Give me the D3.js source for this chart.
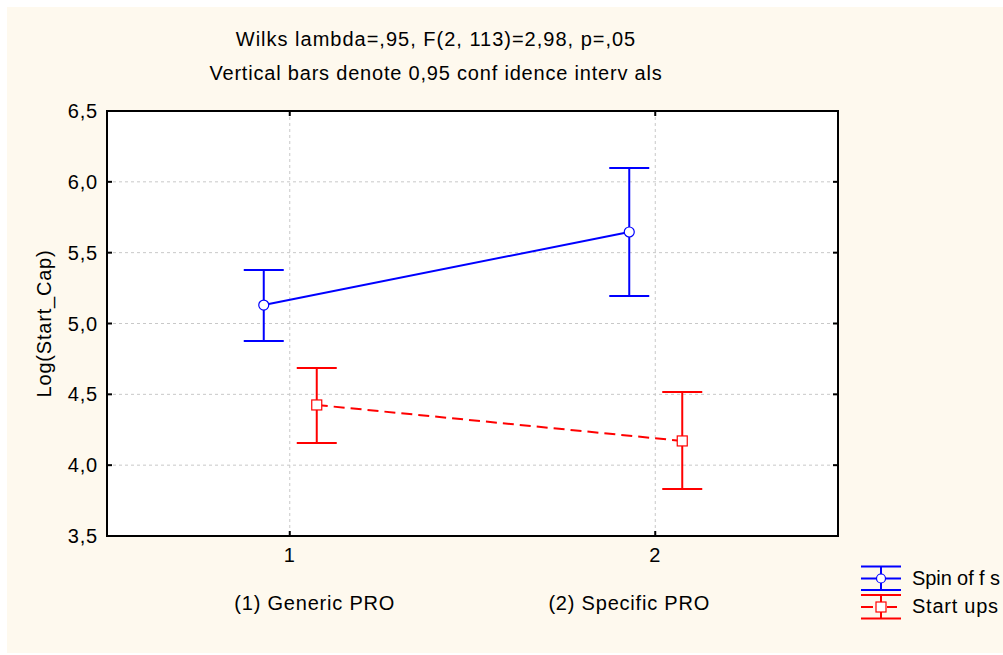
<!DOCTYPE html>
<html lang="en">
<head>
<meta charset="utf-8">
<script src="https://d3js.org/d3.v7.min.js"></script>
<style>
  body { margin: 0; background: #fff; }
  text { font-family: "Liberation Sans", Arial, sans-serif; fill: #000; font-size: 20px; letter-spacing: 0.8px; }
</style>
</head>
<body>
<script>

// chart data
var groups = ["1", "2"];
var groupLabels = ["(1) Generic PRO", "(2) Specific PRO"];
var yTicks = [3.5, 4.0, 4.5, 5.0, 5.5, 6.0, 6.5];
var seriesNames = ["Spin of f s", "Start ups"];
var spinMean = [5.13, 5.646];
var spinLow = [4.877, 5.194];
var spinHigh = [5.378, 6.098];
var startMean = [4.425, 4.171];
var startLow = [4.156, 3.832];
var startHigh = [4.686, 4.517];
var titleLines = ["Wilks lambda=,95, F(2, 113)=2,98, p=,05",
                  "Vertical bars denote 0,95 conf idence interv als"];
var yTitle = "Log(Start_Cap)";

var width = 1003, height = 655;
var margin = {left: 107, top: 111, right: 165, bottom: 119};

var svg = d3.select("body").append("svg")
  .attr("width", width)
  .attr("height", height);

// cream panel, white strip at top/left/bottom
svg.append("rect").attr("x", 7).attr("y", 7)
  .attr("width", width - 7).attr("height", height - 9)
  .attr("fill", "#fef9ee");

var x = d3.scalePoint().domain(groups)
  .range([margin.left, width - margin.right]).padding(0.5);
var y = d3.scaleLinear().domain([3.5, 6.5])
  .range([height - margin.bottom, margin.top]);

var x0 = margin.left, x1 = width - margin.right;
var y0 = height - margin.bottom, y1 = margin.top;

svg.append("rect").attr("x", x0).attr("y", y1)
  .attr("width", x1 - x0).attr("height", y0 - y1)
  .attr("fill", "#fff");

// grid
var grid = svg.append("g").attr("stroke", "#c8c8c8").attr("stroke-dasharray", "3,3");
grid.selectAll("line.h").data(yTicks.slice(1, -1)).enter().append("line")
  .attr("x1", x0).attr("x2", x1)
  .attr("y1", function(d) { return y(d); }).attr("y2", function(d) { return y(d); });
grid.selectAll("line.v").data(groups).enter().append("line")
  .attr("y1", y1).attr("y2", y0)
  .attr("x1", function(d) { return x(d); }).attr("x2", function(d) { return x(d); });

// frame
svg.append("rect").attr("x", x0).attr("y", y1)
  .attr("width", x1 - x0).attr("height", y0 - y1)
  .attr("fill", "none").attr("stroke", "#000").attr("stroke-width", 2);

// inward ticks
var ticks = svg.append("g").attr("stroke", "#000").attr("stroke-width", 2);
yTicks.forEach(function(t) {
  ticks.append("line").attr("x1", x0).attr("x2", x0 + 5).attr("y1", y(t)).attr("y2", y(t));
  ticks.append("line").attr("x1", x1).attr("x2", x1 - 5).attr("y1", y(t)).attr("y2", y(t));
});
groups.forEach(function(g) {
  ticks.append("line").attr("x1", x(g)).attr("x2", x(g)).attr("y1", y0).attr("y2", y0 - 5);
  ticks.append("line").attr("x1", x(g)).attr("x2", x(g)).attr("y1", y1).attr("y2", y1 + 5);
});

// tick labels
svg.selectAll("text.ytick").data(yTicks).enter().append("text")
  .attr("x", x0 - 9).attr("y", function(d) { return y(d) + 7; })
  .attr("text-anchor", "end")
  .text(function(d) { return d3.format(".1f")(d).replace(".", ","); });

svg.selectAll("text.xtick").data(groups).enter().append("text")
  .attr("x", function(d) { return x(d); }).attr("y", 562)
  .attr("text-anchor", "middle")
  .text(function(d) { return d; });

// category names sit a bit toward the middle
svg.selectAll("text.xlab").data(groupLabels).enter().append("text")
  .attr("x", function(d, i) { return x(groups[i]) + (i == 0 ? 25 : -26); }).attr("y", 610)
  .attr("text-anchor", "middle")
  .text(function(d) { return d; });

// titles
svg.selectAll("text.title").data(titleLines).enter().append("text")
  .attr("x", 436).attr("y", function(d, i) { return 46 + i * 34; })
  .attr("text-anchor", "middle")
  .style("letter-spacing", function(d, i) { return i == 0 ? "1px" : "0.8px"; })
  .text(function(d) { return d; });

svg.append("text")
  .attr("transform", "translate(51," + ((y0 + y1) / 2) + ") rotate(-90)")
  .attr("text-anchor", "middle")
  .text(yTitle);

// series
var series = [
  {mean: spinMean, low: spinLow, high: spinHigh, color: "#0000ff", dx: -26, dash: null, marker: "circle"},
  {mean: startMean, low: startLow, high: startHigh, color: "#ff0000", dx: 27, dash: "11,6", marker: "square"}
];

series.forEach(function(s) {
  var px = function(i) { return x(groups[i]) + s.dx; };
  var g = svg.append("g");
  g.append("path")
    .datum(s.mean)
    .attr("d", d3.line().x(function(d, i) { return px(i); }).y(function(d) { return y(d); }))
    .attr("fill", "none").attr("stroke", s.color).attr("stroke-width", 2)
    .attr("stroke-dasharray", s.dash);
  s.mean.forEach(function(m, i) {
    var cx = px(i);
    g.append("line").attr("x1", cx).attr("x2", cx)
      .attr("y1", y(s.low[i])).attr("y2", y(s.high[i]))
      .attr("stroke", s.color).attr("stroke-width", 2);
    [s.low[i], s.high[i]].forEach(function(v) {
      g.append("line").attr("x1", cx - 20).attr("x2", cx + 20)
        .attr("y1", y(v)).attr("y2", y(v))
        .attr("stroke", s.color).attr("stroke-width", 2);
    });
    if (s.marker == "circle") {
      g.append("circle").attr("cx", cx).attr("cy", y(m)).attr("r", 5)
        .attr("fill", "#fff").attr("stroke", s.color).attr("stroke-width", 1.2);
    } else {
      g.append("rect").attr("x", cx - 5).attr("y", y(m) - 5)
        .attr("width", 10).attr("height", 10)
        .attr("fill", "#fff").attr("stroke", s.color).attr("stroke-width", 1.2);
    }
  });
});

// legend
var leg = svg.append("g");
var lx = 881;
// spin offs
[566.5, 578.5, 590].forEach(function(yy) {
  leg.append("line").attr("x1", 861).attr("x2", 901).attr("y1", yy).attr("y2", yy)
    .attr("stroke", "#0000ff").attr("stroke-width", 2);
});
leg.append("line").attr("x1", lx).attr("x2", lx).attr("y1", 566.5).attr("y2", 590)
  .attr("stroke", "#0000ff").attr("stroke-width", 2);
leg.append("circle").attr("cx", lx).attr("cy", 578.5).attr("r", 4.5)
  .attr("fill", "#fff").attr("stroke", "#0000ff").attr("stroke-width", 1.2);
// start ups
[595, 618.5].forEach(function(yy) {
  leg.append("line").attr("x1", 861).attr("x2", 901).attr("y1", yy).attr("y2", yy)
    .attr("stroke", "#ff0000").attr("stroke-width", 2);
});
leg.append("line").attr("x1", lx).attr("x2", lx).attr("y1", 595).attr("y2", 618.5)
  .attr("stroke", "#ff0000").attr("stroke-width", 2);
leg.append("line").attr("x1", 861).attr("x2", 873).attr("y1", 607).attr("y2", 607)
  .attr("stroke", "#ff0000").attr("stroke-width", 2);
leg.append("line").attr("x1", 887).attr("x2", 897).attr("y1", 607).attr("y2", 607)
  .attr("stroke", "#ff0000").attr("stroke-width", 2);
leg.append("rect").attr("x", lx - 5).attr("y", 602).attr("width", 10).attr("height", 10)
  .attr("fill", "#fff").attr("stroke", "#ff0000").attr("stroke-width", 1.2);

leg.selectAll("text").data(seriesNames).enter().append("text")
  .attr("x", 912).attr("y", function(d, i) { return 585 + i * 28; })
  .style("letter-spacing", "0px")
  .attr("textLength", function(d, i) { return i == 0 ? 88 : 86; })
  .attr("lengthAdjust", "spacing")
  .text(function(d) { return d; });

</script>
</body>
</html>
